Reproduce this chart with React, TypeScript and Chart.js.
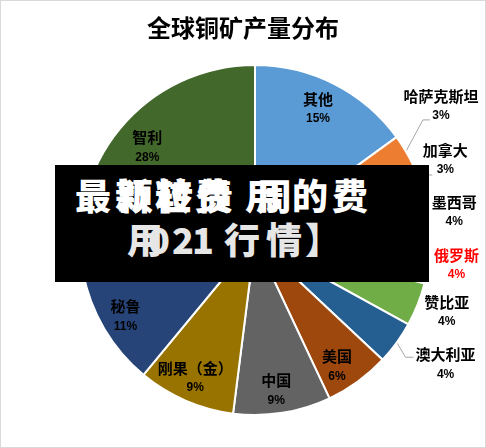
import React, { useEffect, useRef } from "react";
import { Chart, registerables } from "chart.js";

Chart.register(...registerables);

const titleText = "全球铜矿产量分布";
const categories = [
  "其他",
  "哈萨克斯坦",
  "加拿大",
  "墨西哥",
  "俄罗斯",
  "赞比亚",
  "澳大利亚",
  "美国",
  "中国",
  "刚果（金）",
  "秘鲁",
  "智利",
];
const shares = [15, 3, 3, 4, 4, 4, 4, 6, 9, 9, 11, 28];
const percentLabels = shares.map((v) => `${v}%`);

const sliceColors = [
  "#5B9BD5",
  "#ED7D31",
  "#A5A5A5",
  "#FFC000",
  "#4472C4",
  "#70AD47",
  "#255E91",
  "#9E480E",
  "#636363",
  "#997300",
  "#264478",
  "#43682B",
];
const labelColors = [
  "#000000", "#000000", "#000000", "#000000", "#FF0000", "#000000",
  "#000000", "#000000", "#000000", "#000000", "#000000", "#000000",
];
// label placement: radius factor and angular shift (deg) from slice middle
const labelRadius = [0.83, 1.31, 1.18, 1.15, 1.16, 1.17, 1.3, 0.86, 0.87, 0.86, 0.86, 0.81];
const labelAngleShift = [-1.3, -5.2, -3, -0.8, -0.1, -1, -2.9, 3, 1, 0, 0, 1];
// leader lines: [elbowDx, elbowDy, endDx, endDy] relative to label centre
const leaders: (number[] | null)[] = [
  null,
  [-18, 14, -11, 14],
  [-17, 15, -13, 15],
  null,
  null,
  null,
  [-40, -7, -32, -7],
  null,
  null,
  null,
  null,
  null,
];

// overlay banner text pieces
const bannerLine1A = [
  ["最", 75], ["新", 115], ["粒", 155], ["费", 195], ["用", 245], ["的", 292], ["费", 332],
];
const bannerLine1B = [["颖", 117], ["转", 157], ["债", 197], ["周", 256]];
const bannerLine2 = [
  ["用", 127], ["0", 148], ["2", 172], ["1", 192], ["行", 224], ["情", 266], ["】", 305],
];

const labelPlugin = {
  id: "sliceLabels",
  afterDatasetsDraw(chart: any) {
    const ctx = chart.ctx as CanvasRenderingContext2D;
    const meta = chart.getDatasetMeta(0);
    ctx.save();
    meta.data.forEach((arc: any, i: number) => {
      const { x, y, startAngle, endAngle, outerRadius } = arc.getProps(
        ["x", "y", "startAngle", "endAngle", "outerRadius"],
        true
      );
      const mid = (startAngle + endAngle) / 2;
      const a = mid + (labelAngleShift[i] * Math.PI) / 180;
      const r = outerRadius * labelRadius[i];
      const cx = x + r * Math.cos(a);
      const cy = y + r * Math.sin(a);
      const ld = leaders[i];
      if (ld) {
        ctx.beginPath();
        ctx.strokeStyle = "#A6A6A6";
        ctx.lineWidth = 1;
        ctx.moveTo(x + (outerRadius + 1) * Math.cos(mid), y + (outerRadius + 1) * Math.sin(mid));
        ctx.lineTo(cx + ld[0], cy + ld[1]);
        ctx.lineTo(cx + ld[2], cy + ld[3]);
        ctx.stroke();
      }
      ctx.fillStyle = labelColors[i];
      ctx.textAlign = "center";
      ctx.textBaseline = "middle";
      ctx.font = "bold 15px 'Noto Sans CJK SC'";
      ctx.fillText(categories[i], cx, cy - 10);
      ctx.font = "bold 12px 'Liberation Sans'";
      ctx.fillText(percentLabels[i], cx, cy + 10);
    });
    ctx.fillStyle = "#000000";
    ctx.textAlign = "center";
    ctx.textBaseline = "middle";
    ctx.font = "bold 24px 'Noto Sans CJK SC'";
    ctx.fillText(titleText, chart.width / 2, 27);
    ctx.restore();
  },
};

export default function App() {
  const canvasRef = useRef<HTMLCanvasElement | null>(null);

  useEffect(() => {
    if (!canvasRef.current) return;
    const chart = new Chart(canvasRef.current, {
      type: "pie",
      data: {
        labels: categories,
        datasets: [
          {
            data: shares,
            backgroundColor: sliceColors,
            borderColor: "#FFFFFF",
            borderWidth: 2,
          },
        ],
      },
      options: {
        responsive: false,
        animation: false,
        radius: 175,
        layout: { padding: { left: 24, right: 0, top: 32, bottom: 0 } },
        plugins: {
          legend: { display: false },
          title: { display: false },
          tooltip: { enabled: false },
        },
      } as any,
      plugins: [labelPlugin],
    });
    return () => chart.destroy();
  }, []);

  const charStyle = (x: number, top: number, color: string): React.CSSProperties => ({
    position: "absolute",
    left: x - 55,
    top,
    fontFamily: "'Noto Sans CJK SC', sans-serif",
    fontWeight: 900,
    fontSize: 36,
    lineHeight: "36px",
    color,
    whiteSpace: "nowrap",
  });

  return (
    <div style={{ position: "absolute", left: 0, top: 0, width: 486, height: 448, background: "#FFFFFF" }}>
      <div
        style={{
          position: "absolute",
          left: 0,
          top: 0,
          width: 486,
          height: 448,
          boxSizing: "border-box",
          border: "1px solid #D9D9D9",
        }}
      >
        <canvas ref={canvasRef} width={484} height={446} style={{ display: "block", width: 484, height: 446 }} />
      </div>
      <div
        style={{
          position: "absolute",
          left: 55,
          top: 165,
          width: 374,
          height: 117,
          background: "#000000",
          overflow: "hidden",
        }}
      >
        {bannerLine1B.map(([ch, x], i) => (
          <span key={"b" + i} style={charStyle(x as number, 11, "#FFFFFF")}>{ch}</span>
        ))}
        {bannerLine1A.map(([ch, x], i) => (
          <span key={"a" + i} style={charStyle(x as number, 11, "#FFFFFF")}>{ch}</span>
        ))}
        {bannerLine2.map(([ch, x], i) => (
          <span key={"c" + i} style={charStyle(x as number, 55, "#E6E6E6")}>{ch}</span>
        ))}
      </div>
    </div>
  );
}
